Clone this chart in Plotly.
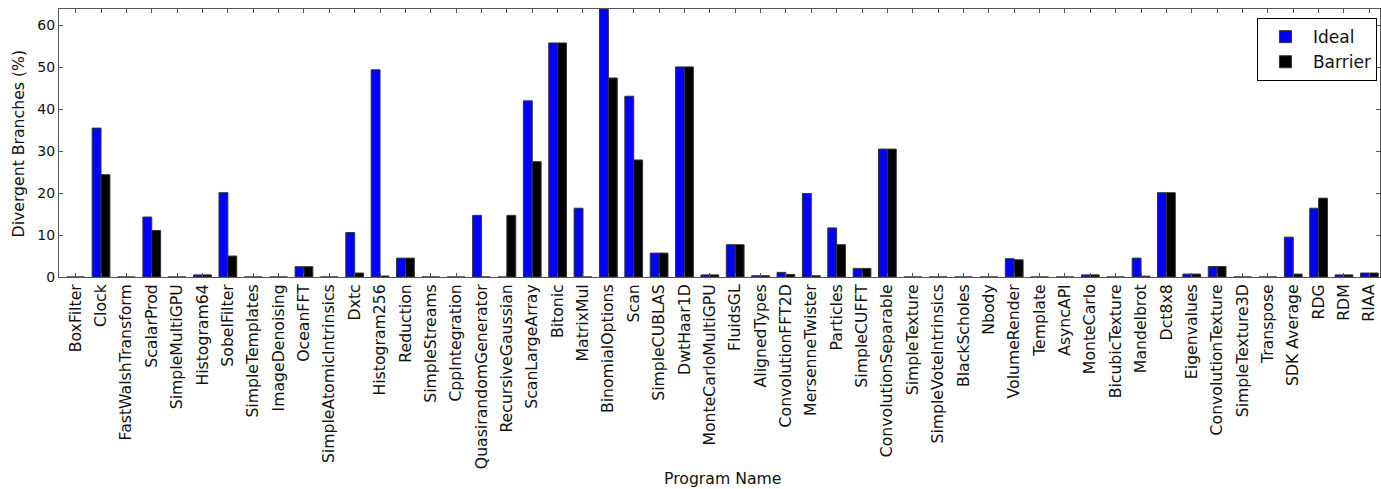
import plotly.graph_objects as go

programs = ["BoxFilter", "Clock", "FastWalshTransform", "ScalarProd", "SimpleMultiGPU",
            "Histogram64", "SobelFilter", "SimpleTemplates", "ImageDenoising", "OceanFFT",
            "SimpleAtomicIntrinsics", "Dxtc", "Histogram256", "Reduction", "SimpleStreams",
            "CppIntegration", "QuasirandomGenerator", "RecursiveGaussian", "ScanLargeArray",
            "Bitonic", "MatrixMul", "BinomialOptions", "Scan", "SimpleCUBLAS", "DwtHaar1D",
            "MonteCarloMultiGPU", "FluidsGL", "AlignedTypes", "ConvolutionFFT2D",
            "MersenneTwister", "Particles", "SimpleCUFFT", "ConvolutionSeparable",
            "SimpleTexture", "SimpleVoteIntrinsics", "BlackScholes", "Nbody", "VolumeRender",
            "Template", "AsyncAPI", "MonteCarlo", "BicubicTexture", "Mandelbrot", "Dct8x8",
            "Eigenvalues", "ConvolutionTexture", "SimpleTexture3D", "Transpose",
            "SDK Average", "RDG", "RDM", "RIAA"]

ideal = [0, 35.5, 0, 14.3, 0,
         0.5, 20.1, 0, 0, 2.45,
         0, 10.6, 49.4, 4.5, 0,
         0, 14.7, 0, 42.0,
         55.8, 16.4, 63.9, 43.1, 5.7, 50.1,
         0.5, 7.7, 0.3, 1.1,
         19.9, 11.7, 2.05, 30.5,
         0, 0, 0, 0, 4.36,
         0, 0, 0.5, 0, 4.5, 20.1,
         0.7, 2.5, 0, 0,
         9.5, 16.4, 0.5, 0.95]

barrier = [0, 24.4, 0, 11.1, 0,
           0.5, 5.0, 0, 0, 2.45,
           0, 0.95, 0.24, 4.5, 0,
           0, 0, 14.7, 27.5,
           55.8, 0, 47.45, 27.9, 5.7, 50.1,
           0.5, 7.7, 0.3, 0.6,
           0.3, 7.7, 2.05, 30.5,
           0, 0, 0, 0, 4.1,
           0, 0, 0.5, 0, 0.2, 20.1,
           0.7, 2.5, 0, 0,
           0.7, 18.8, 0.5, 0.95]

series_names = ["Ideal", "Barrier"]
series_colors = ["#0000ff", "#000000"]

xpos = list(range(len(programs)))

fig = go.Figure()
for name, vals, col in zip(series_names, [ideal, barrier], series_colors):
    fig.add_trace(go.Bar(x=xpos, y=vals, name=name,
                         marker=dict(color=col, line=dict(color="#333333", width=1))))

font_family = "DejaVu Sans"
axis_common = dict(showline=True, linecolor="#555555", linewidth=1, mirror="ticks",
                   ticks="inside", ticklen=4, tickcolor="#555555", showgrid=False,
                   zeroline=False)

fig.update_layout(
    width=1381, height=489,
    margin=dict(l=59, r=1, t=9, b=212),
    paper_bgcolor="white", plot_bgcolor="white",
    barmode="group", bargap=0.3, bargroupgap=0,
    font=dict(family=font_family, color="#111111"),
    xaxis=dict(axis_common, range=[-0.657, 51.42], tickmode="array", tickvals=xpos,
               ticktext=programs, tickangle=-90, tickfont=dict(size=15.7)),
    yaxis=dict(axis_common, range=[0, 63.9], tickvals=[0, 10, 20, 30, 40, 50, 60],
               tickfont=dict(size=14)),
    legend=dict(x=0.9977, xanchor="right", y=0.966, yanchor="top",
                bordercolor="#000000", borderwidth=1, bgcolor="white",
                itemwidth=45, font=dict(size=17, family=font_family)),
    annotations=[
        dict(text="Program Name", xref="paper", yref="paper", x=0.502, y=-0.752,
             xanchor="center", yanchor="middle", showarrow=False,
             font=dict(size=15.7, family=font_family)),
        dict(text="Divergent Branches (%)", xref="paper", yref="paper", x=-0.0307, y=0.5,
             xanchor="center", yanchor="middle", textangle=-90, showarrow=False,
             font=dict(size=15.7, family=font_family)),
    ],
)

fig.write_html("out.html", config={"displayModeBar": False},
               post_script="document.body.style.margin='0';document.body.style.overflow='hidden';")
